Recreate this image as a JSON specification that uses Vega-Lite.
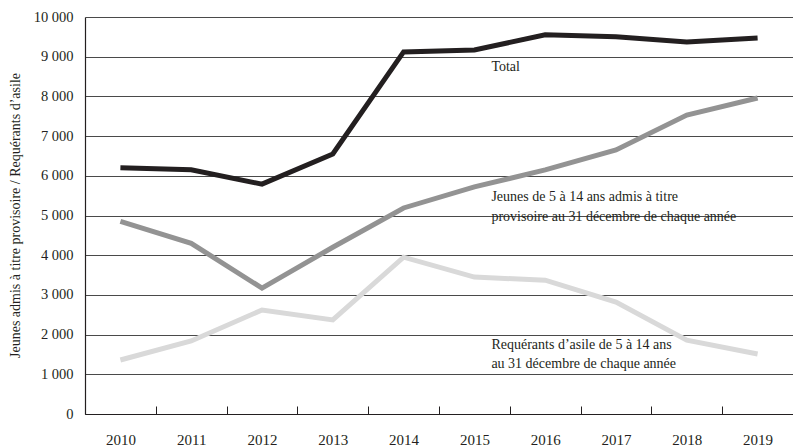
{
  "$schema": "https://vega.github.io/schema/vega-lite/v6.json",
  "width": 708,
  "height": 397,
  "autosize": {"type": "none"},
  "padding": {"left": 85, "top": 17, "right": 0, "bottom": 34},
  "background": "white",
  "config": {
    "view": {"stroke": null},
    "font": "Liberation Serif",
    "axis": {"labelFont": "Liberation Serif", "titleFont": "Liberation Serif", "labelColor": "#231f20", "titleColor": "#231f20"}
  },
  "datasets": {
    "series": [
      {"year": "2010", "value": 6200, "series": "Total"},
      {"year": "2011", "value": 6150, "series": "Total"},
      {"year": "2012", "value": 5790, "series": "Total"},
      {"year": "2013", "value": 6550, "series": "Total"},
      {"year": "2014", "value": 9120, "series": "Total"},
      {"year": "2015", "value": 9170, "series": "Total"},
      {"year": "2016", "value": 9550, "series": "Total"},
      {"year": "2017", "value": 9500, "series": "Total"},
      {"year": "2018", "value": 9370, "series": "Total"},
      {"year": "2019", "value": 9470, "series": "Total"},
      {"year": "2010", "value": 4850, "series": "Jeunes"},
      {"year": "2011", "value": 4300, "series": "Jeunes"},
      {"year": "2012", "value": 3170, "series": "Jeunes"},
      {"year": "2013", "value": 4200, "series": "Jeunes"},
      {"year": "2014", "value": 5190, "series": "Jeunes"},
      {"year": "2015", "value": 5720, "series": "Jeunes"},
      {"year": "2016", "value": 6150, "series": "Jeunes"},
      {"year": "2017", "value": 6650, "series": "Jeunes"},
      {"year": "2018", "value": 7530, "series": "Jeunes"},
      {"year": "2019", "value": 7960, "series": "Jeunes"},
      {"year": "2010", "value": 1360, "series": "Requerants"},
      {"year": "2011", "value": 1840, "series": "Requerants"},
      {"year": "2012", "value": 2620, "series": "Requerants"},
      {"year": "2013", "value": 2370, "series": "Requerants"},
      {"year": "2014", "value": 3950, "series": "Requerants"},
      {"year": "2015", "value": 3450, "series": "Requerants"},
      {"year": "2016", "value": 3370, "series": "Requerants"},
      {"year": "2017", "value": 2820, "series": "Requerants"},
      {"year": "2018", "value": 1860, "series": "Requerants"},
      {"year": "2019", "value": 1510, "series": "Requerants"}
    ],
    "notes": [
      {"year": "2015", "value": 8740, "label": "Total"},
      {"year": "2015", "value": 5470, "label": "Jeunes de 5 à 14 ans admis à titre"},
      {"year": "2015", "value": 4960, "label": "provisoire au 31 décembre de chaque année"},
      {"year": "2015", "value": 1740, "label": "Requérants d’asile de 5 à 14 ans"},
      {"year": "2015", "value": 1260, "label": "au 31 décembre de chaque année"}
    ]
  },
  "encoding": {
    "x": {
      "field": "year", "type": "ordinal", "bandPosition": 0.5,
      "scale": {"type": "band", "paddingInner": 0, "paddingOuter": 0,
        "domain": ["2010","2011","2012","2013","2014","2015","2016","2017","2018","2019"]},
      "axis": {"title": null, "labelAngle": 0, "labelFontSize": 15, "labelPadding": 26,
        "tickBand": "extent", "tickSize": -8, "tickColor": "#231f20", "tickWidth": 1,
        "domainColor": "#231f20", "domainWidth": 1.2, "grid": false}
    },
    "y": {
      "field": "value", "type": "quantitative",
      "scale": {"domain": [0, 10000], "nice": false},
      "axis": {
        "title": "Jeunes admis à titre provisoire / Requérants d’asile",
        "titleFontSize": 14, "titleFontWeight": "normal", "titleX": -70, "titleY": 198,
        "titleAngle": -90, "titleAlign": "center", "titleBaseline": "middle",
        "values": [0,1000,2000,3000,4000,5000,6000,7000,8000,9000,10000],
        "labelExpr": "replace(format(datum.value, ','), ',', ' ')",
        "labelFontSize": 14.5, "labelPadding": 12, "ticks": false,
        "domainColor": "#231f20", "domainWidth": 1.2,
        "grid": true, "gridColor": "#4a4a4a", "gridWidth": 1
      }
    }
  },
  "layer": [
    {
      "data": {"name": "series"},
      "mark": {"type": "line", "strokeWidth": 5, "strokeJoin": "miter"},
      "encoding": {
        "color": {"field": "series", "type": "nominal", "legend": null,
          "scale": {"domain": ["Total", "Jeunes", "Requerants"], "range": ["#231f20", "#939393", "#d9d9d9"]}},
        "detail": {"field": "series"}
      }
    },
    {
      "data": {"name": "notes"},
      "mark": {"type": "text", "align": "left", "baseline": "middle", "dx": 17, "fontSize": 14, "color": "#231f20", "font": "Liberation Serif"},
      "encoding": {"text": {"field": "label"}}
    }
  ]
}
